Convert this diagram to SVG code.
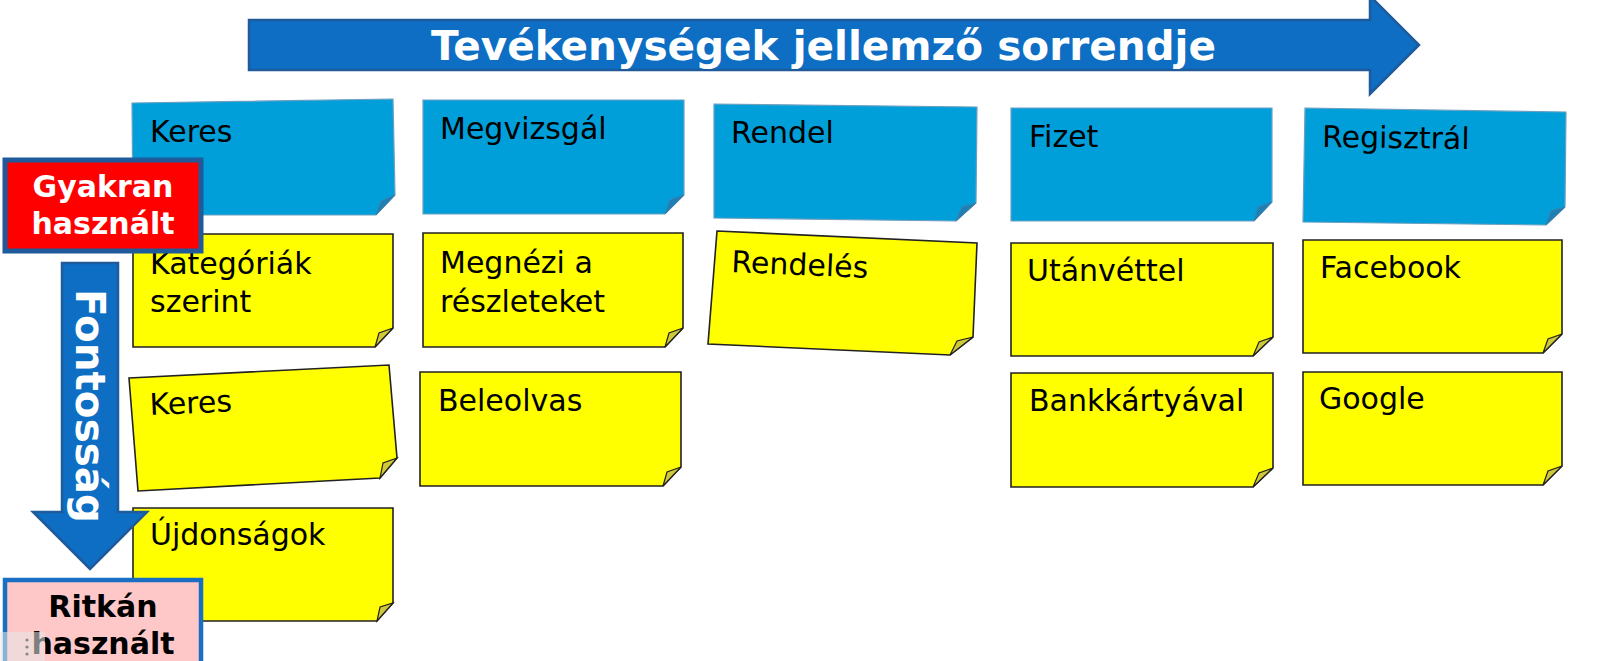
<svg xmlns="http://www.w3.org/2000/svg" width="1600" height="661" viewBox="0 0 1600 661">
<style>
.bg{fill:#ffffff}
.arrow{fill:#0D6EC4;stroke:#1F5A9A;stroke-width:2.5;stroke-linejoin:miter}
.title{font-family:"DejaVu Sans","Liberation Sans",sans-serif;font-weight:bold;fill:#ffffff}
.blue{fill:#009FDA;stroke:#6E9FC0;stroke-width:1.2}
.blueflap{fill:#1F7FB2;stroke:#3A7FAE;stroke-width:1}
.yellow{fill:#FFFF00;stroke:#222222;stroke-width:1.6}
.yflap{fill:#CFC93A;stroke:#222222;stroke-width:1.2}
.note{font-family:"DejaVu Sans","Liberation Sans",sans-serif;font-size:30px;fill:#000000}
.lbl{font-family:"DejaVu Sans","Liberation Sans",sans-serif;font-weight:bold;font-size:30px;text-anchor:middle}
</style>
<rect class="bg" x="0" y="0" width="1600" height="661"/>

<!-- Column 1 -->
<g id="note-keres-blue">
  <polygon class="blue" points="132,103 393,99 395,195 376,215 133,215"/>
  <polygon class="blueflap" points="395,195 376,215 381,201"/>
  <text class="note" x="150" y="142">Keres</text>
</g>
<g id="note-kategoriak">
  <polygon class="yellow" points="133,234 393,234 393,328 375,347 133,347"/>
  <polygon class="yflap" points="393,328 375,347 379,333"/>
  <text class="note" x="150" y="274">Kategóriák</text>
  <text class="note" x="150" y="312">szerint</text>
</g>
<g id="note-keres-yellow">
  <polygon class="yellow" points="129,378 389,365 397,458 380,478 138,491"/>
  <polygon class="yflap" points="397,458 380,478 383,463"/>
  <text class="note" x="150" y="415" transform="rotate(-2.5 150 415)">Keres</text>
</g>
<g id="note-ujdonsagok">
  <polygon class="yellow" points="133,508 393,508 393,603 377,621 133,621"/>
  <polygon class="yflap" points="393,603 377,621 380,607"/>
  <text class="note" x="150" y="545">Újdonságok</text>
</g>

<!-- Column 2 -->
<g id="note-megvizsgal">
  <polygon class="blue" points="423,100 684,100 684,195 665,214 423,214"/>
  <polygon class="blueflap" points="684,195 665,214 670,200"/>
  <text class="note" x="440" y="139">Megvizsgál</text>
</g>
<g id="note-megnezi">
  <polygon class="yellow" points="423,233 683,233 683,328 665,347 423,347"/>
  <polygon class="yflap" points="683,328 665,347 669,333"/>
  <text class="note" x="440" y="273">Megnézi a</text>
  <text class="note" x="440" y="312">részleteket</text>
</g>
<g id="note-beleolvas">
  <polygon class="yellow" points="420,372 681,372 681,467 663,486 420,486"/>
  <polygon class="yflap" points="681,467 663,486 667,472"/>
  <text class="note" x="438" y="411">Beleolvas</text>
</g>

<!-- Column 3 -->
<g id="note-rendel">
  <polygon class="blue" points="714,104 977,107 976,203 956,221 714,218"/>
  <polygon class="blueflap" points="976,203 956,221 962,207"/>
  <text class="note" x="731" y="143">Rendel</text>
</g>
<g id="note-rendeles">
  <polygon class="yellow" points="717,231 977,243 973,337 950,355 708,344"/>
  <polygon class="yflap" points="973,337 950,355 957,341"/>
  <text class="note" x="731" y="272" transform="rotate(2.5 731 272)">Rendelés</text>
</g>

<!-- Column 4 -->
<g id="note-fizet">
  <polygon class="blue" points="1011,108 1272,108 1272,202 1254,221 1011,221"/>
  <polygon class="blueflap" points="1272,202 1254,221 1258,207"/>
  <text class="note" x="1029" y="147">Fizet</text>
</g>
<g id="note-utanvettel">
  <polygon class="yellow" points="1011,243 1273,243 1273,337 1253,356 1011,356"/>
  <polygon class="yflap" points="1273,337 1253,356 1259,342"/>
  <text class="note" x="1027" y="281">Utánvéttel</text>
</g>
<g id="note-bankkartyaval">
  <polygon class="yellow" points="1011,373 1273,373 1273,468 1253,487 1011,487"/>
  <polygon class="yflap" points="1273,468 1253,487 1259,473"/>
  <text class="note" x="1029" y="411">Bankkártyával</text>
</g>

<!-- Column 5 -->
<g id="note-regisztral">
  <polygon class="blue" points="1305,108 1566,112 1565,207 1546,225 1303,222"/>
  <polygon class="blueflap" points="1565,207 1546,225 1551,211"/>
  <text class="note" x="1322" y="147" transform="rotate(0.8 1322 147)">Regisztrál</text>
</g>
<g id="note-facebook">
  <polygon class="yellow" points="1303,240 1562,240 1562,334 1543,353 1303,353"/>
  <polygon class="yflap" points="1562,334 1543,353 1548,339"/>
  <text class="note" x="1320" y="278">Facebook</text>
</g>
<g id="note-google">
  <polygon class="yellow" points="1303,372 1562,372 1562,466 1543,485 1303,485"/>
  <polygon class="yflap" points="1562,466 1543,485 1548,471"/>
  <text class="note" x="1319" y="409">Google</text>
</g>

<g id="connectors">
  <g id="arrow-sequence">
    <polygon class="arrow" points="249,20 1370,20 1370,-4 1419,45 1370,94 1370,70 249,70"/>
    <text class="title" x="431" y="60" font-size="40" textLength="785" lengthAdjust="spacingAndGlyphs">Tevékenységek jellemző sorrendje</text>
  </g>
  <g id="arrow-importance">
    <polygon class="arrow" points="62,263 118,263 118,512 147,512 90,569 33,512 62,512"/>
    <text class="title" font-size="40" transform="translate(76,289) rotate(90)" textLength="234" lengthAdjust="spacingAndGlyphs">Fontosság</text>
  </g>
</g>

<g id="label-gyakran">
  <rect x="5" y="160" width="196" height="91" fill="#FF0000" stroke="#1F5A9A" stroke-width="5"/>
  <text class="lbl" x="103" y="197" fill="#ffffff">Gyakran</text>
  <text class="lbl" x="103" y="234" fill="#ffffff">használt</text>
</g>

<g id="label-ritkan">
  <rect x="5" y="580" width="196" height="90" fill="#FFC8C8" stroke="#1A6FC4" stroke-width="4.5"/>
  <text class="lbl" x="103" y="617" fill="#000000">Ritkán</text>
  <text class="lbl" x="103" y="654" fill="#000000">használt</text>
</g>

<g id="corner-overlay">
  <rect x="0" y="632" width="45" height="29" fill="#E8E8E8" fill-opacity="0.55"/>
  <circle cx="27" cy="640" r="1.6" fill="#888888"/>
  <circle cx="27" cy="647" r="1.6" fill="#888888"/>
  <circle cx="27" cy="654" r="1.6" fill="#888888"/>
</g>
</svg>
